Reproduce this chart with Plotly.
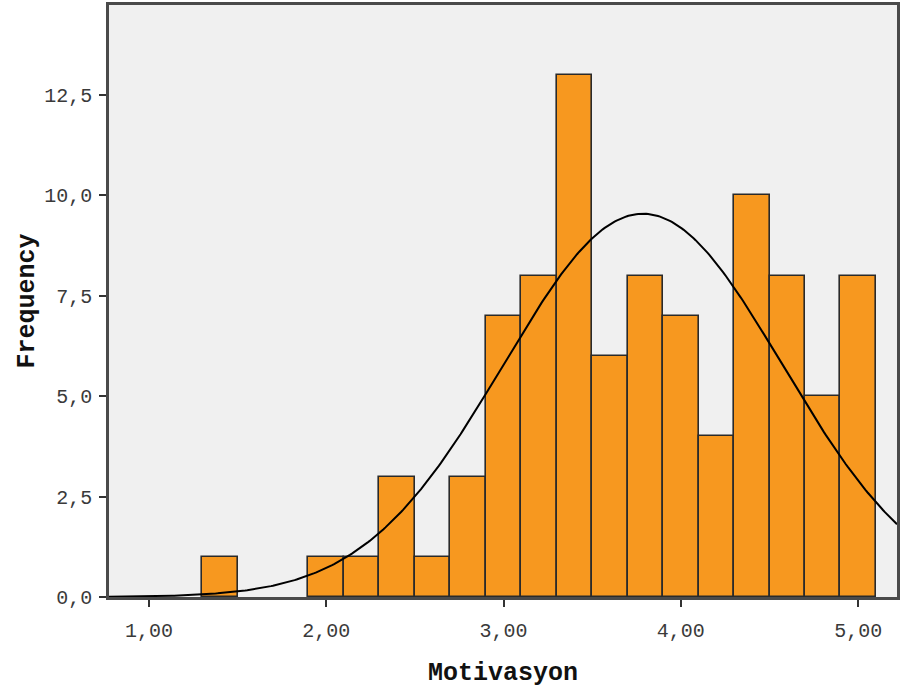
import numpy as np
import plotly.graph_objects as go

# Histogram bins (centers) and frequencies
bin_centers = [1.4, 2.0, 2.2, 2.4, 2.6, 2.8, 3.0, 3.2, 3.4, 3.6, 3.8, 4.0, 4.2, 4.4, 4.6, 4.8, 5.0]
frequencies = [1, 1, 1, 3, 1, 3, 7, 8, 13, 6, 8, 7, 4, 10, 8, 5, 8]
bin_width = 0.2

# Normal curve parameters (fitted)
mean_val = 3.786
std_val = 0.786
n_total = sum(frequencies)

x_tick_vals = [1, 2, 3, 4, 5]
y_tick_vals = [0, 2.5, 5, 7.5, 10, 12.5]

x_range = [0.775, 5.219]
y_range = [0, 14.74]

xc = np.linspace(x_range[0], x_range[1], 400)
yc = n_total * bin_width / (std_val * np.sqrt(2 * np.pi)) * np.exp(-0.5 * ((xc - mean_val) / std_val) ** 2)

fig = go.Figure()
fig.add_trace(go.Bar(
    x=bin_centers, y=frequencies, width=[bin_width] * len(bin_centers),
    marker=dict(color="#F7981F", line=dict(color="#2a2a2a", width=1.6)),
    showlegend=False, hoverinfo="x+y",
))
fig.add_trace(go.Scatter(
    x=xc, y=yc, mode="lines", line=dict(color="#000000", width=2),
    showlegend=False, hoverinfo="skip",
))

tick_font = dict(family="Liberation Mono, Courier New, monospace", size=20, color="#3a3a3a")
title_font = dict(family="Liberation Mono, Courier New, monospace", size=25, color="#111111")

fig.update_layout(
    width=901, height=693,
    margin=dict(l=109, r=4, t=5, b=96),
    paper_bgcolor="white", plot_bgcolor="#F0F0F0",
    separators=",.",
    bargap=0,
    xaxis=dict(
        range=x_range, tickvals=x_tick_vals, tickformat=".2f",
        ticks="outside", ticklen=7, tickwidth=2, tickcolor="#333333",
        showgrid=False, zeroline=False, automargin=False,
        showline=True, linecolor="#4a4a4a", linewidth=2.5, mirror=True,
        tickfont=tick_font, ticklabelstandoff=6,
        title=dict(text="<b>Motivasyon</b>", font=title_font, standoff=21),
    ),
    yaxis=dict(
        range=y_range, tickvals=y_tick_vals, tickformat=".1f",
        ticks="outside", ticklen=7, tickwidth=2, tickcolor="#333333",
        showgrid=False, zeroline=False, automargin=False,
        showline=True, linecolor="#4a4a4a", linewidth=2.5, mirror=True,
        tickfont=tick_font, ticklabelstandoff=3,
        title=dict(text="<b>Frequency</b>", font=title_font, standoff=3),
    ),
)

fig.write_html("out.html", config={"displayModeBar": False},
               post_script="document.body.style.margin='0';")
